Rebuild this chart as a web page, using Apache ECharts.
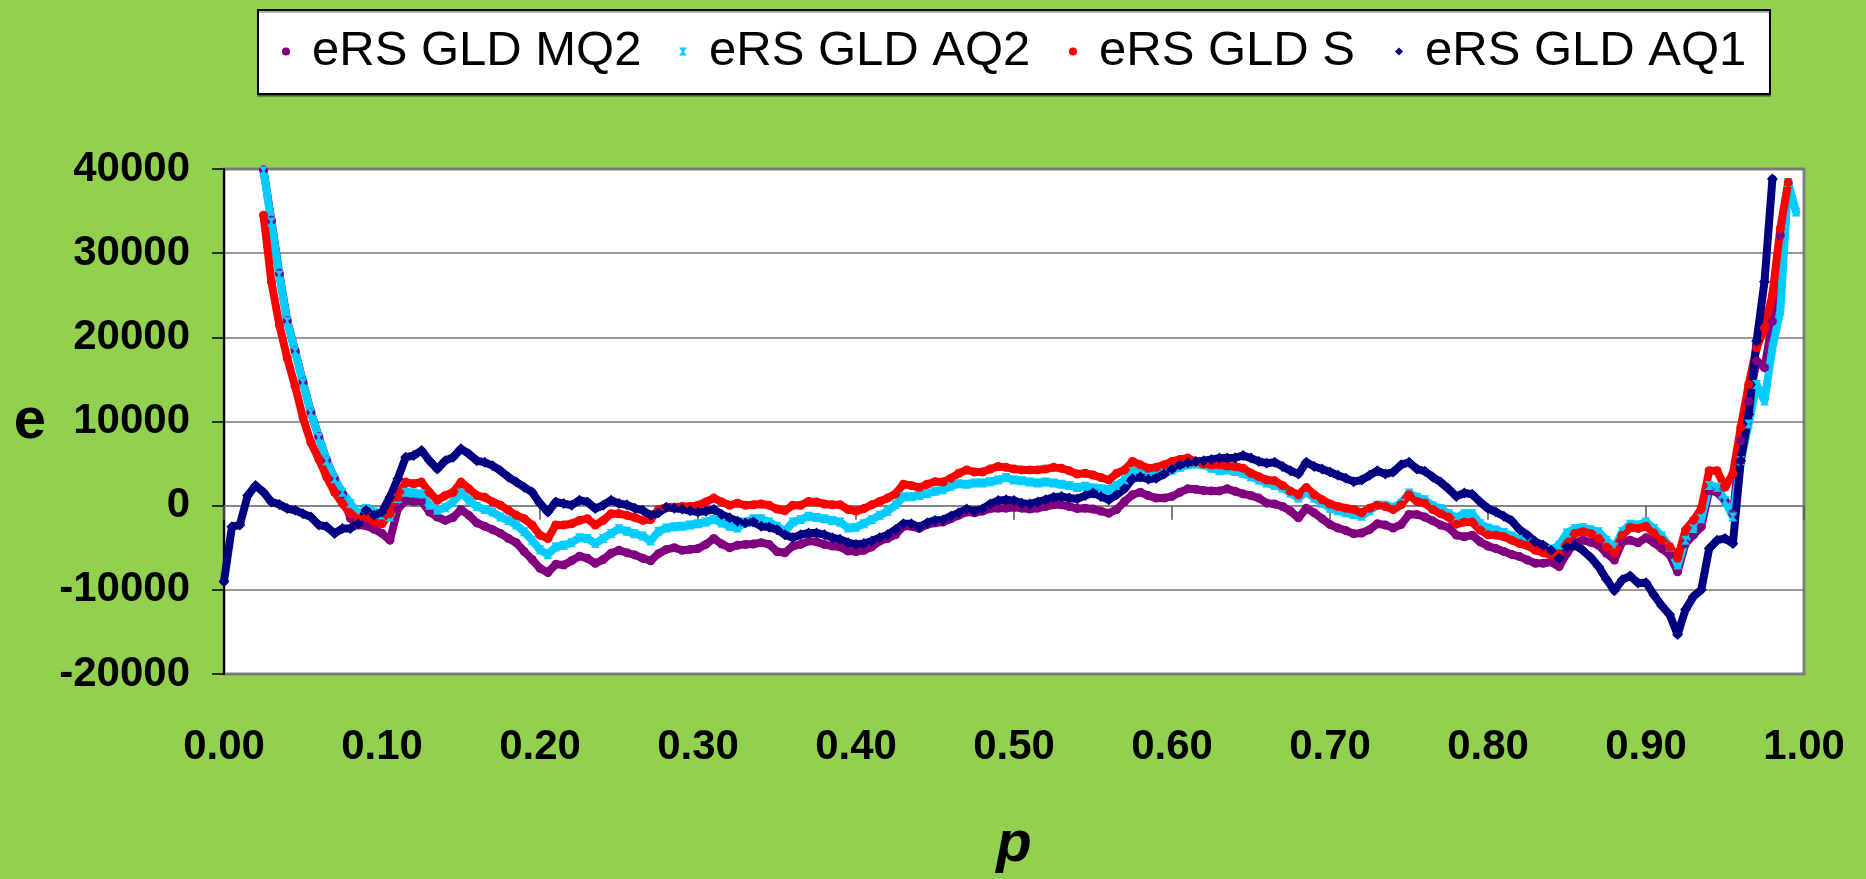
<!DOCTYPE html>
<html><head><meta charset="utf-8">
<script src="https://cdn.jsdelivr.net/npm/echarts@6/dist/echarts.min.js"></script>
<style>html,body{margin:0;padding:0;background:#92D050;}#c{width:1866px;height:879px;}</style>
</head><body><div id="c"></div>
<script>
// x values (p)
const p = [
0,0.005,0.01,0.015,0.02,0.025,0.03,0.035,0.04,0.045,
0.05,0.055,0.06,0.065,0.07,0.075,0.08,0.085,0.09,0.095,
0.1,0.105,0.11,0.115,0.12,0.125,0.13,0.135,0.14,0.145,
0.15,0.155,0.16,0.165,0.17,0.175,0.18,0.185,0.19,0.195,
0.2,0.205,0.21,0.215,0.22,0.225,0.23,0.235,0.24,0.245,
0.25,0.255,0.26,0.265,0.27,0.275,0.28,0.285,0.29,0.295,
0.3,0.305,0.31,0.315,0.32,0.325,0.33,0.335,0.34,0.345,
0.35,0.355,0.36,0.365,0.37,0.375,0.38,0.385,0.39,0.395,
0.4,0.405,0.41,0.415,0.42,0.425,0.43,0.435,0.44,0.445,
0.45,0.455,0.46,0.465,0.47,0.475,0.48,0.485,0.49,0.495,
0.5,0.505,0.51,0.515,0.52,0.525,0.53,0.535,0.54,0.545,
0.55,0.555,0.56,0.565,0.57,0.575,0.58,0.585,0.59,0.595,
0.6,0.605,0.61,0.615,0.62,0.625,0.63,0.635,0.64,0.645,
0.65,0.655,0.66,0.665,0.67,0.675,0.68,0.685,0.69,0.695,
0.7,0.705,0.71,0.715,0.72,0.725,0.73,0.735,0.74,0.745,
0.75,0.755,0.76,0.765,0.77,0.775,0.78,0.785,0.79,0.795,
0.8,0.805,0.81,0.815,0.82,0.825,0.83,0.835,0.84,0.845,
0.85,0.855,0.86,0.865,0.87,0.875,0.88,0.885,0.89,0.895,
0.9,0.905,0.91,0.915,0.92,0.925,0.93,0.935,0.94,0.945,
0.95,0.955,0.96,0.965,0.97,0.975,0.98,0.985,0.99,0.995,
1];

const eRS_GLD_MQ2 = [
null,null,null,null,null,39900,33900,27600,22000,18400,
14700,11100,8200,5400,3200,1400,-1500,-2300,-2400,-2800,
-3300,-4100,-400,600,500,550,-750,-1350,-1750,-1400,
-450,-1150,-2050,-2450,-2850,-3300,-3900,-4400,-5450,-6400,
-7450,-7950,-6950,-7050,-6550,-6000,-6250,-6850,-6400,-5650,
-5300,-5600,-5850,-6250,-6550,-5700,-5200,-5000,-5300,-5200,
-5100,-4600,-3900,-4550,-5000,-4700,-4600,-4550,-4400,-4600,
-5450,-5600,-4800,-4600,-4200,-4300,-4600,-4800,-4900,-5400,
-5450,-5300,-4900,-4200,-3900,-3450,-2450,-2450,-2700,-2250,
-2050,-1950,-1550,-1150,-750,-850,-650,-350,-300,-300,
-200,-300,-400,-300,-100,100,100,-100,-350,-300,
-400,-650,-900,-450,500,1300,1600,1200,900,900,
1100,1600,2000,1950,1800,1750,1750,2000,1700,1400,
1200,900,300,200,-100,-650,-1450,-300,-850,-1550,
-2250,-2650,-2950,-3350,-3250,-2850,-2150,-2300,-2650,-2250,
-1050,-1050,-1350,-1800,-2300,-2600,-3500,-3700,-3500,-4300,
-4800,-5100,-5450,-5800,-6050,-6450,-6850,-6850,-6700,-7250,
-5650,-4400,-4100,-4350,-4700,-5650,-6450,-4300,-4100,-4400,
-3800,-4400,-5100,-5850,-7850,-4500,-3500,-2500,1800,1600,
600,-950,7700,12400,17200,16400,21900,32100,null,null,
null];

const eRS_GLD_AQ2 = [
null,null,null,null,null,39800,33700,27400,21900,18350,
14600,11050,8100,5350,3200,1600,250,-950,-350,-750,
-1350,-1350,850,1600,1500,1400,50,-550,-250,450,
1500,650,-100,-450,-750,-1350,-1750,-2300,-3100,-4100,
-5250,-5800,-4900,-4700,-4400,-3800,-3900,-4500,-3900,-3300,
-2750,-3050,-3350,-3600,-4200,-3050,-2650,-2500,-2450,-2300,
-2150,-1950,-1650,-2050,-2450,-2650,-1950,-1550,-1550,-1950,
-2450,-3050,-1950,-1650,-1250,-1400,-1550,-1750,-1950,-2650,
-2550,-2150,-1650,-1150,-650,100,1050,1050,1200,1450,
1700,1900,2300,2600,2550,2700,2700,2850,3050,3350,
3050,2950,2800,2700,2800,2700,2550,2400,2150,2300,
2100,2000,1900,2400,3050,4050,4350,4000,3850,4000,
4250,4550,4850,4950,4850,4450,4150,4250,4050,3850,
3450,3050,2700,2400,2100,1500,900,1700,900,300,
-300,-600,-850,-1050,-1250,-600,50,50,-200,300,
1500,1000,700,0,-350,-950,-1400,-950,-950,-2150,
-2650,-2900,-3200,-3600,-4000,-4300,-4700,-4900,-5200,-4700,
-3250,-2700,-2600,-2850,-3100,-4100,-4950,-3100,-2200,-2300,
-1950,-2700,-3600,-4900,-7050,-4100,-2700,-1550,2400,2200,
600,-1350,5350,9700,14400,12450,18750,23100,38400,34900,
null];

const eRS_GLD_S = [
null,null,null,null,null,34500,26600,21500,17550,14200,
10450,7500,5550,3400,1600,250,-950,-1550,-1350,-1950,
-2150,-950,1000,2800,2600,2800,1600,650,1200,1600,
2800,2000,1200,1000,450,50,-550,-1150,-1550,-2300,
-3500,-3900,-2300,-2300,-2150,-1750,-1550,-2300,-1750,-950,
-950,-1150,-1400,-1750,-1650,-450,-200,-200,-100,-100,
50,450,900,450,50,300,50,100,200,50,
-400,-600,50,50,500,450,200,100,100,-450,
-650,-350,100,500,900,1400,2550,2400,2150,2550,
2850,2800,3250,3850,4250,4000,4000,4350,4650,4550,
4350,4250,4250,4250,4350,4550,4450,4150,3750,3850,
3650,3350,3050,3850,4250,5250,4850,4450,4550,4850,
5250,5500,5650,5250,4950,4850,4850,4700,4650,4450,
3850,3450,3050,2950,2400,1700,1300,2150,1300,700,
200,-100,-300,-450,-850,-300,50,-100,-450,100,
1300,500,300,-450,-950,-1350,-2200,-1950,-1950,-2900,
-3450,-3500,-3700,-4100,-4500,-4750,-5300,-5600,-5850,-5750,
-4500,-3300,-3100,-3300,-3900,-4900,-5600,-3500,-2600,-2700,
-2450,-3250,-4100,-4900,-6250,-2900,-1750,-350,4150,4150,
2200,3800,9300,14400,18750,21100,25050,32900,38400,null,
null];

const eRS_GLD_AQ1 = [
-9000,-2500,-2300,1200,2400,1600,450,150,-350,-550,
-950,-1350,-2300,-2500,-3300,-2700,-2700,-2150,-550,-1150,
-750,1000,3200,5750,5950,6550,5350,4350,5350,5750,
6750,6150,5350,5150,4750,4150,3400,2800,2200,1600,
250,-750,450,250,50,650,450,-350,50,650,
250,100,-300,-550,-1150,-850,-200,-300,-400,-600,
-750,-650,-450,-1050,-1450,-1850,-2050,-1950,-2450,-2550,
-2850,-3450,-3800,-3450,-3250,-3250,-3450,-3800,-4000,-4400,
-4600,-4500,-4200,-3800,-3450,-2850,-2150,-2150,-2550,-2050,
-1750,-1700,-1250,-850,-400,-650,-400,200,600,700,
600,300,200,450,700,1000,1100,900,800,1200,
1500,1100,700,1300,2000,3200,3400,3150,3250,3750,
4350,4850,5100,5250,5350,5500,5650,5650,5700,5950,
5650,5250,5050,5150,4650,4150,3750,5150,4650,4350,
4000,3600,3250,2850,3050,3600,4150,3750,4000,4850,
5150,4350,4100,3400,2800,2000,1100,1500,1350,450,
-350,-750,-1250,-1800,-2850,-3500,-4300,-4700,-5300,-6250,
-4900,-4700,-5300,-6150,-7250,-8750,-10100,-8800,-8350,-9200,
-9150,-10600,-11900,-12950,-15300,-12350,-10800,-10000,-5100,-4100,
-3900,-4500,5350,10850,19550,26600,38800,null,null,null,
null];

const seriesNames = ['eRS GLD MQ2','eRS GLD AQ2','eRS GLD S','eRS GLD AQ1'];
const seriesValues = [eRS_GLD_MQ2, eRS_GLD_AQ2, eRS_GLD_S, eRS_GLD_AQ1];
const yTickLabels = ['-20000','-10000','0','10000','20000','30000','40000'];
const xTickLabels = ['0.00','0.10','0.20','0.30','0.40','0.50','0.60','0.70','0.80','0.90','1.00'];

const FONT = '"Liberation Sans", Arial, sans-serif';
const colors = ['#800080','#00CCFF','#FF0000','#000080'];
const symbols = ['circle','path://M0,0L10,0L6,5L10,10L0,10L4,5Z','circle','diamond'];
const sizes = [9,9,9,11];
const legendIconCenter = [286, 683, 1073, 1399];

const chart = echarts.init(document.getElementById('c'), null, {renderer:'canvas'});
const pairs = vals => p.map((x,i)=>[x, vals[i]]).filter(d => d[1] !== null);

const option = {
  backgroundColor: '#92D050',
  animation: false,
  textStyle: {fontFamily: FONT},
  grid: {left:224, right:62, top:169, bottom:202, show:true, backgroundColor:'#ffffff', borderColor:'#808080', borderWidth:3},
  graphic: [{type:'rect', z:1, shape:{x:258, y:10, width:1512, height:84},
    style:{fill:'#ffffff', stroke:'#000000', lineWidth:2, shadowColor:'rgba(0,0,0,0.3)', shadowOffsetX:0, shadowOffsetY:2, shadowBlur:0}}],
  legend: seriesNames.map((n,i)=>({
    data:[{name:n, icon:symbols[i]}], left: legendIconCenter[i] - 4, top: 27, padding:0, itemGap:0,
    itemWidth:8, itemHeight:8, z:5,
    textStyle:{fontFamily:FONT, fontSize:49, color:'#000', padding:[0,0,0,17]}
  })),
  xAxis: [
    {type:'value', min:0, max:1, interval:0.1, position:'bottom',
     axisLine:{show:false, onZero:false}, axisTick:{show:false}, splitLine:{show:false},
     axisLabel:{fontFamily:FONT, fontSize:42, fontWeight:'bold', color:'#000', margin:52,
       formatter: v => xTickLabels[Math.round(v*10)]},
     name:'p', nameLocation:'middle', nameGap:142,
     nameTextStyle:{fontFamily:FONT, fontSize:58, fontWeight:'bold', fontStyle:'italic', color:'#000'}},
    {type:'value', min:0, max:1, interval:0.1, position:'top',
     axisLine:{show:true, onZero:true, onZeroAxisIndex:0, lineStyle:{color:'#808080', width:1.5}},
     axisTick:{show:true, inside:true, length:14, lineStyle:{color:'#555555', width:1.5}},
     axisLabel:{show:false}, splitLine:{show:false}}
  ],
  yAxis: {type:'value', min:-20000, max:40000, interval:10000,
    axisLine:{show:true, onZero:false, lineStyle:{color:'#000', width:2}},
    axisTick:{show:true, length:12, lineStyle:{color:'#000', width:1.5}},
    axisLabel:{fontFamily:FONT, fontSize:42, fontWeight:'bold', color:'#000', margin:34,
      formatter: v => yTickLabels[Math.round((v + 20000)/10000)]},
    splitLine:{show:true, lineStyle:{color:'#777777', width:1.5}},
    name:'e', nameLocation:'middle', nameRotate:0, nameGap:178,
    nameTextStyle:{fontFamily:FONT, fontSize:58, fontWeight:'bold', color:'#000'}},
  series: seriesNames.map((n,i)=>({
    name:n, type:'line', xAxisIndex:0, yAxisIndex:0,
    symbol:symbols[i], symbolSize:sizes[i], showSymbol:true, showAllSymbol:true,
    lineStyle:{color:colors[i], width:8, cap:'round', join:'round'},
    itemStyle:{color:colors[i], borderWidth:0},
    emphasis:{disabled:true},
    data: pairs(seriesValues[i])
  }))
};
chart.setOption(option);
</script></body></html>
